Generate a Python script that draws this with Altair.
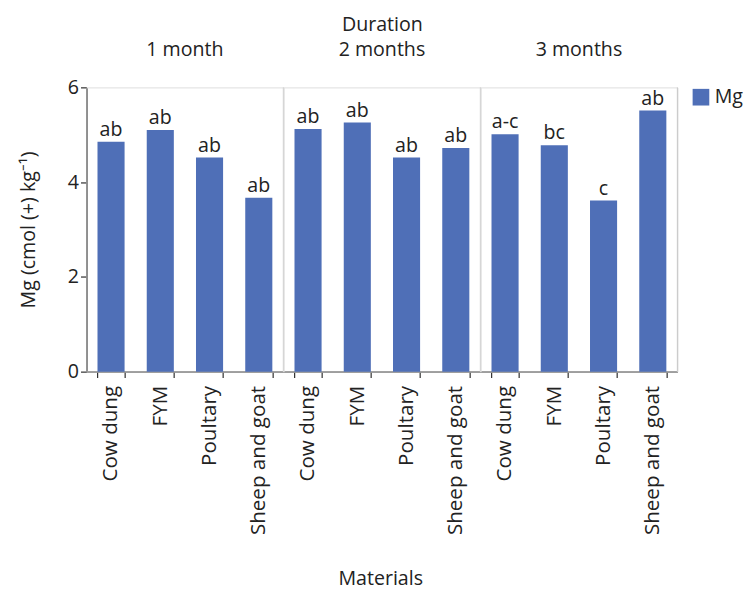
import altair as alt
import pandas as pd

durations = ["1 month", "2 months", "3 months"]
materials = ["Cow dung", "FYM", "Poultary", "Sheep and goat"]
mg_1 = [4.85, 5.10, 4.52, 3.67]
mg_2 = [5.12, 5.26, 4.52, 4.72]
mg_3 = [5.01, 4.78, 3.61, 5.51]
letters_1 = ["ab", "ab", "ab", "ab"]
letters_2 = ["ab", "ab", "ab", "ab"]
letters_3 = ["a-c", "bc", "c", "ab"]

rows = []
for d, vals, lets in zip(durations, [mg_1, mg_2, mg_3], [letters_1, letters_2, letters_3]):
    for m, v, l in zip(materials, vals, lets):
        rows.append({"Duration": d, "Material": m, "Mg": v, "Letter": l, "Series": "Mg"})
df = pd.DataFrame(rows)

FONT = "Open Sans"
FS = 20
FSX = 21
BLUE = "#4f6fb7"
TXT = "#222222"
W, H = 201, 290

base = alt.Chart(df)
xenc = alt.X(
    "Material:N", sort=materials, title=None,
    scale=alt.Scale(paddingInner=0.45, paddingOuter=0.225),
    axis=alt.Axis(labelAngle=-90, tickBand="extent", labelFontSize=FSX,
                  labelPadding=8, domainColor="black", tickColor="black",
                  domainWidth=1.5, tickSize=6, labelColor=TXT),
)
yenc = alt.Y(
    "Mg:Q", scale=alt.Scale(domain=[0, 6]), title="Mg (cmol (+) kg⁻¹)",
    axis=alt.Axis(values=[0, 2, 4, 6], grid=False, labelFontSize=FS, titleFontSize=FS,
                  titleFontWeight="normal", domainColor="black", tickColor="black",
                  domainWidth=1.5, tickSize=6, labelColor=TXT, titleColor=TXT,
                  titlePadding=30),
)
bars = base.mark_bar().encode(
    x=xenc, y=yenc,
    color=alt.Color("Series:N", scale=alt.Scale(range=[BLUE]),
                    legend=alt.Legend(title=None, symbolType="square", symbolSize=289,
                                      labelFontSize=FS, symbolStrokeWidth=0, offset=12,
                                      labelColor=TXT)),
)
text = base.mark_text(dy=-12, fontSize=FS, font=FONT, color=TXT).encode(
    x=alt.X("Material:N", sort=materials), y="Mg:Q", text="Letter:N"
)
rule = base.transform_filter(alt.datum.Material == "Cow dung").mark_rule(
    color="#cccccc", strokeWidth=1.2
).encode(x=alt.value(W), y=alt.value(0), y2=alt.value(H))

chart = alt.layer(bars, text, rule).properties(width=W, height=H).facet(
    column=alt.Column("Duration:N", sort=durations, title="Duration",
                      header=alt.Header(labelFontSize=FS, titleFontSize=FS,
                                        titleFontWeight="normal", labelPadding=28,
                                        titlePadding=-4, labelColor=TXT, titleColor=TXT,
                                        labelFont=FONT, titleFont=FONT)),
    spacing=0,
    bounds="flush",
).properties(
    title=alt.TitleParams("Materials", orient="bottom", anchor="middle", frame="bounds",
                          fontSize=FS, fontWeight="normal", color=TXT, font=FONT, offset=35),
    padding={"left": 10, "top": 1, "right": 5, "bottom": 5},
).configure_view(stroke="transparent").configure(font=FONT)

chart.save("out.html", embed_options={"renderer": "svg", "actions": False})
